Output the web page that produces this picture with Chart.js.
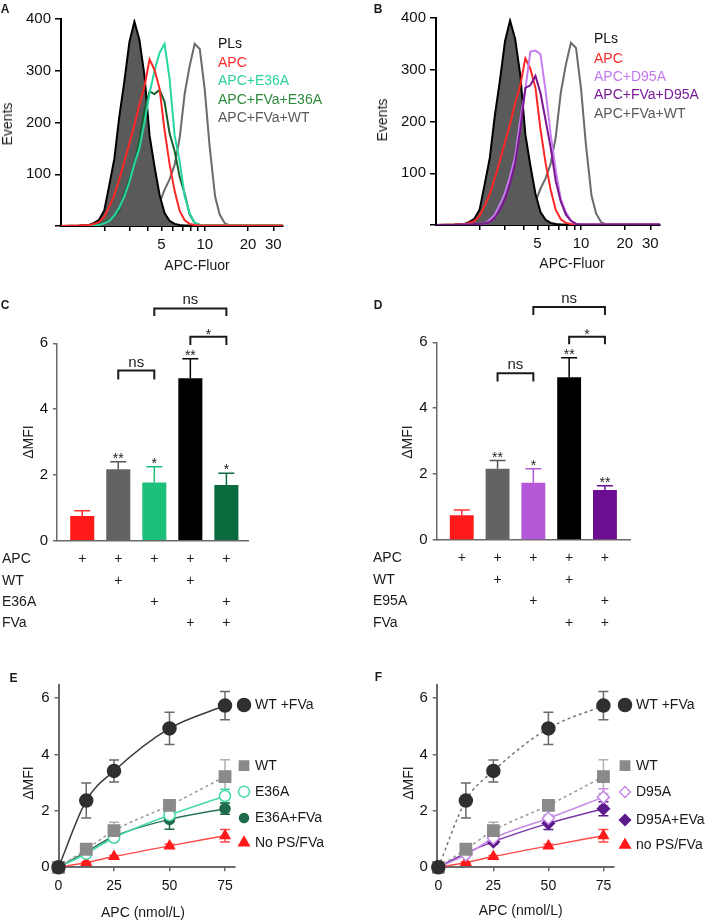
<!DOCTYPE html>
<html>
<head>
<meta charset="utf-8">
<script src="https://cdn.jsdelivr.net/npm/chart.js@4.4.0/dist/chart.umd.min.js"></script>
<style>
  html, body { margin: 0; padding: 0; background: #fff; }
  #page { position: relative; width: 709px; height: 920px; overflow: hidden;
          font-family: "Liberation Sans", Arial, sans-serif; color: #1a1a1a; }
  canvas { position: absolute; }
  .t { position: absolute; white-space: nowrap; font-size: 14px; line-height: 1; }
  .letter { font-weight: bold; font-size: 12px; }
  .rot { transform: translate(-50%, -50%) rotate(-90deg); }
  .ctr { transform: translate(-50%, -50%); }
  .lg { transform: translateY(-50%); }
</style>
</head>
<body>
<div id="page">
  <canvas id="chartA" width="350" height="290" style="left:0;top:0"></canvas>
  <canvas id="chartB" width="354" height="290" style="left:355px;top:0"></canvas>
  <canvas id="chartC" width="350" height="345" style="left:0;top:290px"></canvas>
  <canvas id="chartD" width="354" height="345" style="left:355px;top:290px"></canvas>
  <canvas id="chartE" width="350" height="280" style="left:0;top:640px"></canvas>
  <canvas id="chartF" width="354" height="280" style="left:355px;top:640px"></canvas>

  <!-- panel letters -->
  <div class="t letter ctr" style="left:5px;top:8.5px">A</div>
  <div class="t letter ctr" style="left:378px;top:8.5px">B</div>
  <div class="t letter ctr" style="left:5px;top:305px">C</div>
  <div class="t letter ctr" style="left:378px;top:305px">D</div>
  <div class="t letter ctr" style="left:13.5px;top:678px">E</div>
  <div class="t letter ctr" style="left:378.5px;top:677px">F</div>

  <!-- axis titles -->
  <div class="t rot" style="left:7px;top:124px">Events</div>
  <div class="t ctr" style="left:197px;top:265px">APC-Fluor</div>
  <div class="t rot" style="left:381.5px;top:120px">Events</div>
  <div class="t ctr" style="left:572px;top:263px">APC-Fluor</div>
  <div class="t rot" style="left:28px;top:442px">ΔMFI</div>
  <div class="t rot" style="left:406.7px;top:442px">ΔMFI</div>
  <div class="t rot" style="left:28px;top:783px">ΔMFI</div>
  <div class="t rot" style="left:408px;top:783px">ΔMFI</div>
  <div class="t ctr" style="left:143px;top:912px">APC (nmol/L)</div>
  <div class="t ctr" style="left:520.7px;top:910px">APC (nmol/L)</div>

  <!-- legends A / B -->
  <div class="t lg" style="left:218px;top:43px;color:#111">PLs</div>
  <div class="t lg" style="left:218px;top:62px;color:#ff2a2a">APC</div>
  <div class="t lg" style="left:218px;top:80px;color:#2fd3a0">APC+E36A</div>
  <div class="t lg" style="left:218px;top:99px;color:#2e8b3c">APC+FVa+E36A</div>
  <div class="t lg" style="left:218px;top:117px;color:#5a5a5a">APC+FVa+WT</div>

  <div class="t lg" style="left:594px;top:38px;color:#111">PLs</div>
  <div class="t lg" style="left:594px;top:58px;color:#ff2a2a">APC</div>
  <div class="t lg" style="left:594px;top:76px;color:#c479f0">APC+D95A</div>
  <div class="t lg" style="left:594px;top:94px;color:#7b1a96">APC+FVa+D95A</div>
  <div class="t lg" style="left:594px;top:113px;color:#5a5a5a">APC+FVa+WT</div>
</div>

<script>
Chart.defaults.font.family = '"Liberation Sans", Arial, sans-serif';
Chart.defaults.color = '#111';
Chart.defaults.animation = false;

// ==================== DATA: flow histograms (A, B) ====================
const fluorBins = [1.0, 1.34, 1.57, 1.70, 1.84, 2.00, 2.17, 2.35, 2.54, 2.76, 2.99, 3.24, 3.51, 3.81, 4.13, 4.47, 4.85, 5.25,
  5.69, 6.17, 6.69, 7.25, 7.86, 8.51, 9.23, 10.0, 10.8, 11.8, 12.7, 13.8, 15.0, 16.2, 17.6, 25, 35];
const plsEvents = [0, 1, 2, 6, 12, 30, 80, 130, 210, 280, 355, 395, 360, 290, 175, 115, 60, 25,
  10, 4, 2, 1, 1, 0, 0, 0, 0, 0, 0, 0, 0, 0, 0, 0, 0];
const apcEvents = [0, 1, 2, 4, 8, 18, 38, 60, 90, 125, 160, 195, 235, 270, 322, 302, 265, 185,
  120, 68, 29, 11, 4, 2, 1, 1, 1, 1, 1, 1, 1, 1, 1, 1, 1];
const wtFvaEvents = [0, 0, 0, 0, 0, 0, 0, 0, 0, 0, 0, 2, 4, 10, 20, 32, 45, 70,
  90, 118, 170, 256, 310, 352, 342, 263, 155, 57, 22, 5, 1, 1, 1, 1, 1];
const e36aEvents = [0, 0, 1, 1, 2, 5, 10, 20, 35, 57, 85, 120, 150, 200, 256, 300, 335, 352,
  285, 175, 125, 57, 24, 6, 2, 2, 2, 2, 2, 2, 2, 2, 2, 2, 2];
const fvaE36aEvents = [0, 0, 1, 1, 3, 6, 12, 18, 30, 62, 90, 121, 166, 225, 260, 255, 263, 240,
  179, 145, 95, 62, 22, 6, 2, 2, 2, 2, 2, 2, 2, 2, 2, 2, 2];
const d95aEvents = [0, 0, 1, 1, 2, 2, 3, 10, 20, 40, 62, 94, 132, 203, 262, 335, 337, 330,
  260, 175, 106, 50, 25, 8, 2, 1, 1, 1, 1, 1, 1, 1, 1, 1, 1];
const fvaD95aEvents = [0, 0, 1, 1, 2, 2, 3, 6, 14, 30, 50, 81, 119, 184, 265, 270, 288, 255,
  203, 150, 85, 45, 20, 8, 2, 1, 1, 1, 1, 1, 1, 1, 1, 1, 1];
const histXTicks = [2, 3, 4, 5, 6, 7, 8, 9, 10, 20, 30];
const histXLabels = [5, 10, 20, 30];
const histYTicks = [0, 100, 200, 300, 400];

// ==================== DATA: bar charts (C, D) ====================
const condMatrix = [[1, 1, 1, 1, 1], [0, 1, 0, 1, 0], [0, 0, 1, 0, 1], [0, 0, 0, 1, 1]];
const rowLabelsC = ['APC', 'WT', 'E36A', 'FVa'];
const rowLabelsD = ['APC', 'WT', 'E95A', 'FVa'];
const mfiC = [0.75, 2.17, 1.77, 4.94, 1.69];
const semC = [0.16, 0.23, 0.48, 0.59, 0.36];
const starsC = ['', '**', '*', '**', '*'];
const mfiD = [0.75, 2.16, 1.74, 4.94, 1.52];
const semD = [0.16, 0.25, 0.42, 0.59, 0.13];
const starsD = ['', '**', '*', '**', '**'];
// [from bar, to bar, line value, leg end value, label]
const bracketsC = [[1, 2, 5.17, 4.9, 'ns'], [2, 4, 7.06, 6.83, 'ns'], [3, 4, 6.2, 5.95, '*']];
const bracketsD = [[1, 2, 5.06, 4.81, 'ns'], [2, 4, 7.07, 6.83, 'ns'], [3, 4, 6.17, 5.94, '*']];
const mfiTicks = [0, 2, 4, 6];

// ==================== DATA: dose response (E, F) ====================
const apcConc = [0, 12.5, 25, 50, 75];
const doseTicks = [0, 25, 50, 75];
const wtFvaMfi = [0, 2.37, 3.42, 4.93, 5.74];
const wtFvaSem = [0, 0.62, 0.39, 0.57, 0.5];
const wtMfi = [0, 0.64, 1.30, 2.20, 3.22];
const wtSem = [0, 0.06, 0.3, 0.18, 0.6];
const e36aMfi = [0, 0.48, 1.05, 1.85, 2.53];
const e36aSem = [0, 0.05, 0.1, 0.12, 0.24];
const fvaE36aMfi = [0, 0.55, 1.10, 1.70, 2.08];
const fvaE36aSem = [0, 0.05, 0.1, 0.35, 0.2];
const noPsMfi = [0, 0.17, 0.38, 0.76, 1.12];
const noPsSem = [0, 0.03, 0.04, 0.06, 0.22];
const d95aMfi = [0, 0.44, 1.03, 1.74, 2.49];
const d95aSem = [0, 0.05, 0.08, 0.12, 0.3];
const fvaD95aMfi = [0, 0.50, 0.91, 1.56, 2.08];
const fvaD95aSem = [0, 0.05, 0.08, 0.22, 0.25];

const FONT = '"Liberation Sans", Arial, sans-serif';

// ==================== HISTOGRAMS ====================
function makeHistogram(p) {
  new Chart(document.getElementById(p.id), {
    type: 'line',
    data: {
      datasets: p.series.map(s => ({
        data: fluorBins.map((f, i) => ({ x: f, y: s.events[i] })),
        borderColor: s.color,
        borderWidth: 2,
        pointRadius: 0,
        tension: 0,
        fill: s.fill ? 'origin' : false,
        backgroundColor: s.fill || 'transparent',
        order: s.order
      }))
    },
    options: {
      responsive: false,
      animation: false,
      layout: { padding: { left: 0, bottom: 0, top: p.top, right: p.right } },
      plugins: { legend: { display: false }, tooltip: { enabled: false } },
      scales: {
        x: {
          type: 'logarithmic', min: 1, max: 35,
          afterBuildTicks: s => { s.ticks = histXTicks.map(v => ({ value: v })); },
          afterFit: s => { s.height = p.xHeight; },
          ticks: { autoSkip: false, maxRotation: 0, padding: 5, font: { size: 15 },
            callback: v => histXLabels.includes(v) ? String(v) : '' },
          grid: { drawOnChartArea: false, tickLength: 5, color: '#000', lineWidth: 1.5 },
          border: { color: '#000', width: 2 }
        },
        y: {
          min: 0, max: 400,
          afterBuildTicks: s => { s.ticks = histYTicks.map(v => ({ value: v })); },
          afterFit: s => { s.width = p.yWidth; },
          ticks: { padding: 4, font: { size: 15 }, callback: v => v === 0 ? '' : String(v) },
          grid: { drawOnChartArea: false, tickLength: 6, color: '#000', lineWidth: 1.5 },
          border: { color: '#000', width: 2 }
        }
      }
    }
  });
}

makeHistogram({
  id: 'chartA', yWidth: 61, xHeight: 64, top: 19, right: 67,
  series: [
    { events: wtFvaEvents, color: '#6b6b6b', order: 5 },
    { events: plsEvents, color: '#000', fill: '#5a5a5a', order: 4 },
    { events: fvaE36aEvents, color: '#17602e', order: 3 },
    { events: e36aEvents, color: '#27d6a2', order: 2 },
    { events: apcEvents, color: '#ff2626', order: 1 }
  ]
});
makeHistogram({
  id: 'chartB', yWidth: 81, xHeight: 65, top: 18, right: 49,
  series: [
    { events: wtFvaEvents, color: '#6b6b6b', order: 5 },
    { events: plsEvents, color: '#000', fill: '#5a5a5a', order: 4 },
    { events: apcEvents, color: '#ff2626', order: 3 },
    { events: d95aEvents, color: '#c77df2', order: 2 },
    { events: fvaD95aEvents, color: '#7a178f', order: 1 }
  ]
});

// ==================== BAR CHARTS ====================
function barExtras(p) {
  return {
    id: 'barExtras',
    afterDatasetsDraw(chart) {
      const { ctx, chartArea } = chart;
      const x = chart.scales.x, y = chart.scales.y;
      ctx.save();
      // one-sided error bars + stars
      p.values.forEach((v, i) => {
        const cx = x.getPixelForValue(i);
        const top = y.getPixelForValue(v + p.sem[i]);
        ctx.strokeStyle = p.errColors[i];
        ctx.lineWidth = 1.5;
        ctx.beginPath();
        ctx.moveTo(cx, y.getPixelForValue(v));
        ctx.lineTo(cx, top);
        ctx.moveTo(cx - 8, top);
        ctx.lineTo(cx + 8, top);
        ctx.stroke();
        if (p.stars[i]) {
          ctx.fillStyle = '#222';
          ctx.font = '14px ' + FONT;
          ctx.textAlign = 'center';
          ctx.textBaseline = 'alphabetic';
          ctx.fillText(p.stars[i], cx, top + 1);
        }
      });
      // significance brackets
      ctx.strokeStyle = '#1a1a1a';
      ctx.lineWidth = 2;
      p.brackets.forEach(([a, b, yl, yd, label]) => {
        const xa = x.getPixelForValue(a), xb = x.getPixelForValue(b);
        const py = y.getPixelForValue(yl), pd = y.getPixelForValue(yd);
        ctx.beginPath();
        ctx.moveTo(xa, pd);
        ctx.lineTo(xa, py);
        ctx.lineTo(xb, py);
        ctx.lineTo(xb, pd);
        ctx.stroke();
        ctx.fillStyle = '#222';
        ctx.textAlign = 'center';
        ctx.textBaseline = 'alphabetic';
        if (label === 'ns') {
          ctx.font = '15px ' + FONT;
          ctx.fillText(label, (xa + xb) / 2, py - 4);
        } else {
          ctx.font = '14px ' + FONT;
          ctx.fillText(label, (xa + xb) / 2, py + 2);
        }
      });
      // condition table
      ctx.font = '14px ' + FONT;
      ctx.fillStyle = '#1a1a1a';
      ctx.textBaseline = 'middle';
      p.rowLabels.forEach((lab, r) => {
        const ry = chartArea.bottom + 18.6 + r * 21.4;
        ctx.textAlign = 'left';
        ctx.fillText(lab, p.labelX, ry);
        ctx.textAlign = 'center';
        condMatrix[r].forEach((on, i) => {
          if (on) ctx.fillText('+', x.getPixelForValue(i), ry);
        });
      });
      ctx.restore();
    }
  };
}

function makeBars(p) {
  new Chart(document.getElementById(p.id), {
    type: 'bar',
    data: {
      datasets: [{
        data: p.values.map((v, i) => ({ x: i, y: v })),
        backgroundColor: p.colors,
        borderWidth: 0,
        barPercentage: 0.667,
        categoryPercentage: 1
      }]
    },
    options: {
      responsive: false,
      animation: false,
      layout: { padding: { left: 0, bottom: 0, top: p.top, right: p.right } },
      plugins: { legend: { display: false }, tooltip: { enabled: false } },
      scales: {
        x: {
          type: 'linear', min: -0.7, max: p.xMax, offset: false,
          afterFit: s => { s.height = p.xHeight; },
          ticks: { display: false },
          grid: { drawOnChartArea: false, drawTicks: false },
          border: { color: '#6a6a6a', width: 1.5 }
        },
        y: {
          min: 0, max: 6,
          afterBuildTicks: s => { s.ticks = mfiTicks.map(v => ({ value: v })); },
          afterFit: s => { s.width = p.yWidth; },
          ticks: { padding: 5, font: { size: 15 } },
          grid: { drawOnChartArea: false, tickLength: 4, color: '#6a6a6a', lineWidth: 1.5 },
          border: { color: '#6a6a6a', width: 1.5 }
        }
      }
    },
    plugins: [barExtras(p)]
  });
}

makeBars({
  id: 'chartC', yWidth: 57, xHeight: 94.3, top: 53.3, right: 102, xMax: 4.6, labelX: 2,
  values: mfiC, sem: semC, stars: starsC, brackets: bracketsC, rowLabels: rowLabelsC,
  colors: ['#ff1a1a', '#636363', '#1dc07a', '#000000', '#0b6a3e'],
  errColors: ['#ff3030', '#555555', '#1dc07a', '#000000', '#0b6a3e']
});
makeBars({
  id: 'chartD', yWidth: 81.7, xHeight: 95, top: 52.3, right: 79, xMax: 4.7, labelX: 18,
  values: mfiD, sem: semD, stars: starsD, brackets: bracketsD, rowLabels: rowLabelsD,
  colors: ['#ff1a1a', '#636363', '#b558d8', '#000000', '#6c0d92'],
  errColors: ['#ff3030', '#555555', '#b558d8', '#000000', '#6c0d92']
});

// ==================== DOSE RESPONSE ====================
function doseExtras(p) {
  return {
    id: 'doseExtras',
    beforeDatasetsDraw(chart) {
      const { ctx } = chart;
      const y = chart.scales.y;
      ctx.save();
      ctx.lineWidth = 1.5;
      p.series.forEach((s, di) => {
        const meta = chart.getDatasetMeta(di);
        meta.data.forEach((pt, i) => {
          const e = s.sem[i];
          if (!e) return;
          const top = y.getPixelForValue(s.y[i] + e), bot = y.getPixelForValue(s.y[i] - e);
          ctx.strokeStyle = s.err;
          ctx.beginPath();
          ctx.moveTo(pt.x, top); ctx.lineTo(pt.x, bot);
          ctx.moveTo(pt.x - 5, top); ctx.lineTo(pt.x + 5, top);
          ctx.moveTo(pt.x - 5, bot); ctx.lineTo(pt.x + 5, bot);
          ctx.stroke();
        });
      });
      ctx.restore();
    },
    afterDraw(chart) {
      const { ctx } = chart;
      ctx.save();
      p.series.forEach((s, k) => {
        const ly = p.legendY[k];
        ctx.fillStyle = s.fill;
        ctx.strokeStyle = s.edge;
        ctx.lineWidth = 1.5;
        Chart.helpers.drawPoint(ctx, { pointStyle: s.shape, radius: s.legendR, rotation: 0, borderWidth: 1.5 }, p.legendX, ly);
        ctx.fillStyle = '#1a1a1a';
        ctx.font = '14px ' + FONT;
        ctx.textAlign = 'left';
        ctx.textBaseline = 'middle';
        ctx.fillText(s.label, p.legendX + 11, ly);
      });
      ctx.restore();
    }
  };
}

function makeDose(p) {
  new Chart(document.getElementById(p.id), {
    type: 'line',
    data: {
      datasets: p.series.map(s => ({
        data: apcConc.map((c, i) => ({ x: c, y: s.y[i] })),
        borderColor: s.line,
        borderWidth: 1.5,
        borderDash: s.dash || [],
        cubicInterpolationMode: 'monotone',
        fill: false,
        clip: false,
        pointStyle: s.shape,
        pointRadius: s.r,
        pointBackgroundColor: s.fill,
        pointBorderColor: s.edge,
        pointBorderWidth: 1.5,
        order: s.order
      }))
    },
    options: {
      responsive: false,
      animation: false,
      layout: { padding: { left: 0, bottom: 0, top: p.top, right: p.right } },
      plugins: { legend: { display: false }, tooltip: { enabled: false } },
      scales: {
        x: {
          type: 'linear', min: p.xMin, max: p.xMax,
          afterBuildTicks: s => { s.ticks = doseTicks.map(v => ({ value: v })); },
          afterFit: s => { s.height = p.xHeight; },
          ticks: { padding: 6, font: { size: 14 }, maxRotation: 0 },
          grid: { drawOnChartArea: false, tickLength: 4, color: '#6a6a6a', lineWidth: 1.5 },
          border: { color: '#6a6a6a', width: 2 }
        },
        y: {
          min: 0, max: 6.47,
          afterBuildTicks: s => { s.ticks = mfiTicks.map(v => ({ value: v })); },
          afterFit: s => { s.width = p.yWidth; },
          ticks: { padding: 5, font: { size: 15 } },
          grid: { drawOnChartArea: false, tickLength: 4, color: '#6a6a6a', lineWidth: 1.5 },
          border: { color: '#6a6a6a', width: 2 }
        }
      }
    },
    plugins: [doseExtras(p)]
  });
}

const wtFvaSolid = { label: 'WT +FVa', y: wtFvaMfi, sem: wtFvaSem, line: '#3a3a3a', shape: 'circle', r: 6.5, legendR: 6.5,
  fill: '#2f2f2f', edge: '#2f2f2f', err: '#6a6a6a', order: 1 };
const wtDotted = { label: 'WT', y: wtMfi, sem: wtSem, line: '#9a9a9a', dash: [3, 3], shape: 'rect', r: 8, legendR: 6.5,
  fill: '#8a8a8a', edge: '#8a8a8a', err: '#b0b0b0', order: 2 };
const noPsSeries = { y: noPsMfi, sem: noPsSem, line: '#ff4a4a', shape: 'triangle', r: 5.5, legendR: 6,
  fill: '#ff1a1a', edge: '#ff1a1a', err: '#ff4a4a', order: 5 };

makeDose({
  id: 'chartE', yWidth: 58.5, xHeight: 52.7, top: 45, right: 115, xMin: 0, xMax: 79.5,
  legendX: 244, legendY: [65, 125.7, 151.7, 178, 202.7],
  series: [
    wtFvaSolid,
    wtDotted,
    { label: 'E36A', y: e36aMfi, sem: e36aSem, line: '#45d9a8', shape: 'circle', r: 5.5, legendR: 5.5,
      fill: '#ffffff', edge: '#45d9a8', err: '#45d9a8', order: 3 },
    { label: 'E36A+FVa', y: fvaE36aMfi, sem: fvaE36aSem, line: '#2b7453', shape: 'circle', r: 5, legendR: 4.5,
      fill: '#1f6b4a', edge: '#1f6b4a', err: '#1f6b4a', order: 4 },
    Object.assign({}, noPsSeries, { label: 'No PS/FVa' })
  ]
});

makeDose({
  id: 'chartF', yWidth: 81.8, xHeight: 52.7, top: 45, right: 95, xMin: -0.7, xMax: 79.8,
  legendX: 270, legendY: [65, 125.7, 152, 180, 205],
  series: [
    Object.assign({}, wtFvaSolid, { line: '#777777', dash: [3, 3] }),
    wtDotted,
    { label: 'D95A', y: d95aMfi, sem: d95aSem, line: '#c68be6', shape: 'rectRot', r: 6, legendR: 5.5,
      fill: '#ffffff', edge: '#c68be6', err: '#c68be6', order: 3 },
    { label: 'D95A+EVa', y: fvaD95aMfi, sem: fvaD95aSem, line: '#7a35a8', shape: 'rectRot', r: 6, legendR: 5.5,
      fill: '#5d1a8a', edge: '#5d1a8a', err: '#5d1a8a', order: 4 },
    Object.assign({}, noPsSeries, { label: 'no PS/FVa' })
  ]
});
</script>
</body>
</html>
